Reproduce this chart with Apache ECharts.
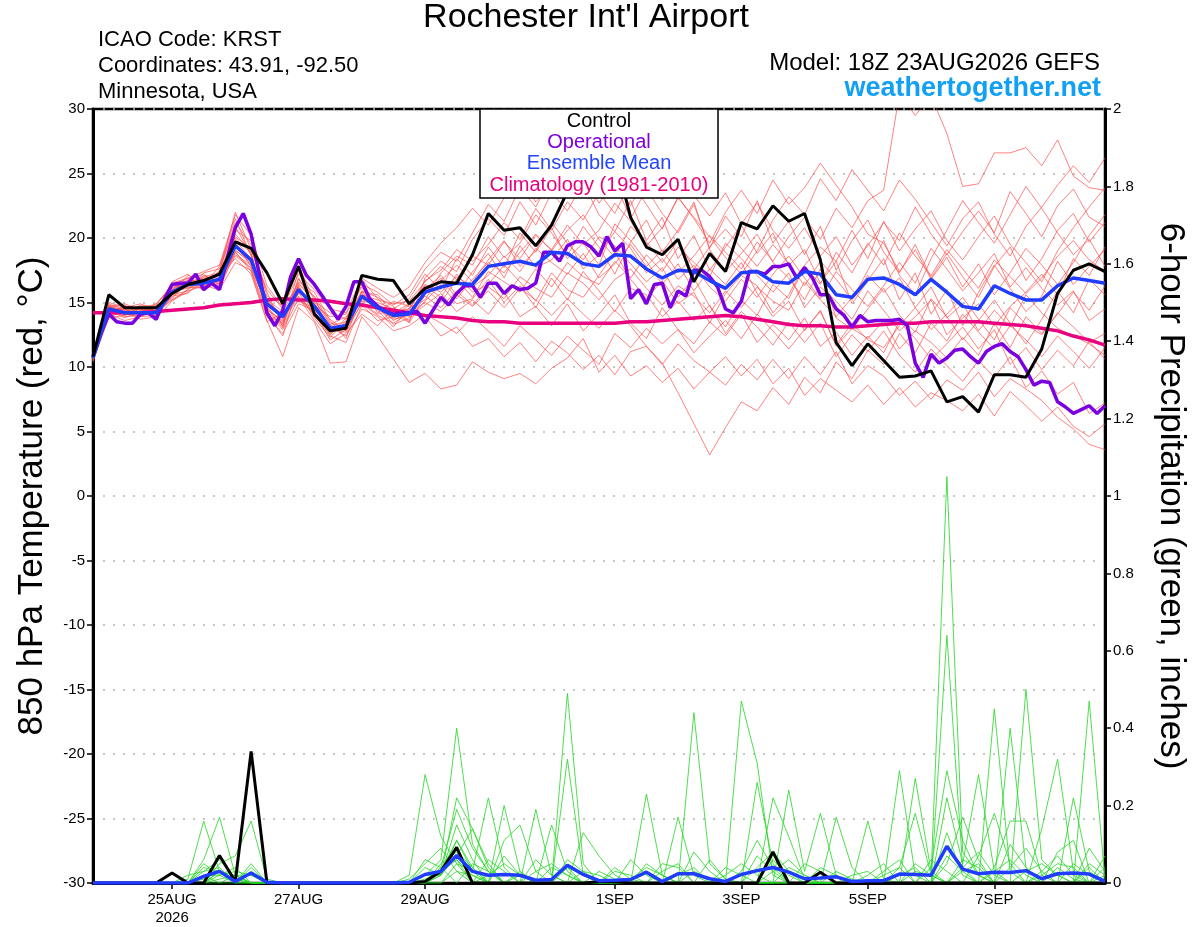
<!DOCTYPE html>
<html><head><meta charset="utf-8">
<script src="https://cdn.jsdelivr.net/npm/echarts@6/dist/echarts.min.js"></script>
<style>html,body{margin:0;padding:0;background:#fff}#chart{width:1200px;height:927px}</style>
</head><body><div id="chart"></div>
<script>
// ---- time axis (hours since 18Z 23AUG2026) ----
const hours6 = []; for (let h = 0; h <= 384; h += 6) hours6.push(h);
const hours3 = []; for (let h = 0; h <= 384; h += 3) hours3.push(h);
const tickHours = [30, 78, 126, 198, 246, 294, 342];
const tickLabels = ['25AUG\n2026', '27AUG', '29AUG', '1SEP', '3SEP', '5SEP', '7SEP'];

// ---- 850 hPa temperature (°C), 6-hourly ----
const controlTemp = [10.8,15.6,14.6,14.6,14.6, 15.7,16.4,16.7,17.2,19.7, 19.2,17.3,14.9,17.8,14.1, 12.8,13.0,17.1,16.8,16.7,
  14.9,16.1,16.6,16.5,18.7, 21.9,20.6,20.8,19.4,21.0, 23.6,26.0,27.0,26.4,21.6, 19.3,18.7,19.9,16.6,18.8,
  17.4,21.2,20.7,22.5,21.3, 21.9,18.3,11.9,10.1,11.8, 10.5,9.2,9.3,9.7,7.3, 7.7,6.5,9.4,9.4,9.2, 11.4,15.7,17.5,18.0,17.4];
const meanTemp = [10.7,14.5,14.2,14.2,14.2, 15.8,16.4,16.5,16.8,19.4, 18.3,14.9,13.9,16.0,14.7, 13.0,13.2,15.5,14.6,14.0,
  14.1,15.8,16.2,16.5,16.4, 17.8,18.0,18.2,17.9,18.9, 18.8,18.0,17.8,18.7,18.6, 17.6,16.9,17.5,17.4,16.7,
  16.1,17.3,17.4,16.6,16.5, 17.4,17.2,15.6,15.4,16.8, 16.9,16.4,15.6,16.8,15.8, 14.7,14.5,16.3,15.7,15.2, 15.2,16.3,16.9,16.7,16.5];
const climTemp = [14.2,14.2,14.2,14.2,14.3, 14.4,14.5,14.6,14.8,14.9, 15.0,15.2,15.3,15.2,15.2, 15.1,14.9,14.8,14.6,14.4,
  14.2,14.0,13.9,13.8,13.6, 13.5,13.5,13.4,13.4,13.4, 13.4,13.4,13.4,13.4,13.5, 13.5,13.6,13.7,13.8,13.9,
  14.0,13.9,13.7,13.5,13.3, 13.2,13.2,13.1,13.1,13.2, 13.3,13.4,13.4,13.5,13.5, 13.5,13.5,13.4,13.3,13.2, 13.0,12.8,12.4,12.1,11.7];
// operational run, 3-hourly
const operTemp = [10.8,12.6,14.1,13.5,13.4,13.4,14.1,14.2,13.7,15.2,16.4,16.5,16.5,17.2,16.0,16.5,16.0,18.5,20.8,21.9,
  20.3,17.3,14.2,13.2,14.4,17.0,18.4,17.1,16.4,15.5,14.6,13.7,14.7,16.6,16.6,15.3,14.7,14.3,14.1,14.2,14.2,14.3,13.4,
  14.4,15.4,14.8,15.7,16.3,16.3,15.4,16.5,16.5,15.7,16.3,16.0,16.1,16.5,18.9,18.9,18.2,19.4,19.7,19.7,19.3,18.6,20.1,
  19.0,19.6,15.3,16.0,14.9,16.4,16.5,14.6,15.9,15.5,17.5,17.5,17.0,16.2,14.5,14.2,15.1,17.4,17.4,
  17.2,17.8,17.8,18.0,16.9,17.7,16.9,15.6,15.6,14.5,14.0,13.1,14.0,13.5,13.6,13.6,13.6,13.7,13.2,10.3,9.2,11.0,10.3,
  10.7,11.3,11.4,10.8,10.3,11.2,11.6,11.8,11.2,10.8,9.8,8.6,8.9,8.8,7.3,6.9,6.4,6.7,7.0,6.4,7.0];

// ensemble members (red)
const tm01 = [11.0,14.8,14.0,14.5,14.9, 16.3,16.9,16.2,17.5,21.2, 19.5,15.8,13.1,17.5,14.2, 12.1,12.9,16.8,15.3,14.0, 13.5,16.9,18.2,17.4,19.9, 21.5,20.2,22.8,21.0,23.5, 22.1,24.3,21.8,20.5,22.9, 19.8,21.6,18.4,20.2,17.5, 19.3,21.0,18.8,20.4,17.9, 19.1,16.5,18.2,14.9,16.7, 18.4,15.2,17.3,14.1,16.0, 13.2,15.8,17.9,16.1,14.3, 15.5,18.2,16.4,17.8,19.1];
const tm02 = [10.5,14.1,13.6,13.9,14.4, 15.2,16.0,16.8,16.1,18.9, 17.6,14.2,12.9,15.3,14.1, 12.4,11.9,14.8,13.6,13.9, 14.8,16.3,15.4,17.2,15.8, 16.4,17.9,16.6,15.1,17.3, 16.0,15.4,17.1,18.9,16.8, 15.3,16.7,14.9,15.8,13.4, 15.7,17.1,16.3,14.2,15.6, 17.9,19.3,18.2,20.6,18.4, 21.3,19.0,20.7,22.1,19.8, 18.3,20.1,21.7,19.5,18.1, 16.6,19.0,20.8,22.4,23.9];
const tm03 = [10.8,14.6,14.8,14.1,14.0, 16.0,16.8,17.2,16.4,20.3, 18.9,14.1,12.4,16.6,15.8, 13.6,12.2,15.9,14.4,13.1, 14.6,15.2,17.3,18.6,17.9, 20.1,18.5,19.6,21.8,20.4, 18.6,20.9,19.3,17.2,19.7, 21.4,18.9,20.6,22.8,19.1, 17.4,18.8,20.3,18.1,16.9, 15.2,17.6,13.8,12.9,14.5, 16.1,14.0,12.7,15.3,13.9, 12.1,13.6,15.2,13.4,11.8, 13.7,15.9,14.2,16.8,15.6];
const tm04 = [10.6,13.9,14.3,13.7,13.9, 15.5,15.7,16.9,17.1,18.4, 17.2,13.5,14.2,15.4,13.6, 11.8,12.6,14.1,13.2,14.6, 13.9,14.8,15.7,14.3,15.2, 14.1,15.8,13.9,14.7,13.2, 14.9,12.8,14.1,15.6,13.4, 12.2,14.6,12.9,11.8,13.5, 12.4,14.1,11.9,13.3,12.1, 13.8,11.6,12.7,10.9,12.4, 11.1,13.5,12.2,10.6,11.8, 13.1,11.4,12.9,10.2,11.5, 9.8,11.3,10.1,12.0,10.6];
const tm05 = [11.1,15.0,14.6,14.9,14.3, 16.6,17.2,15.9,17.4,22.0, 19.1,16.0,14.5,17.9,15.1, 14.2,13.7,16.4,15.8,14.8, 15.6,17.6,18.9,18.2,20.4, 22.6,21.3,23.9,22.4,24.7, 23.2,25.1,22.7,24.3,21.5, 23.8,21.9,20.4,22.6,19.2, 21.7,20.1,22.9,19.6,21.3, 18.7,20.9,17.5,19.8,21.4, 18.9,17.3,19.5,16.9,18.8, 17.0,15.4,17.8,19.3,16.7, 18.4,20.6,21.9,19.7,21.2];
const tm06 = [10.4,14.3,14.5,14.6,14.1, 15.9,16.1,16.6,16.3,19.1, 18.0,15.3,13.7,15.7,15.2, 13.3,13.9,15.1,14.9,13.6, 14.3,15.5,14.6,15.9,14.8, 16.2,15.3,17.0,16.1,15.4, 17.3,16.5,15.2,16.8,17.6, 16.1,14.8,16.3,15.5,14.2, 15.9,14.6,16.2,15.1,14.4, 16.6,15.2,13.9,15.4,17.1, 15.8,16.9,14.6,16.2,13.8, 14.9,12.8,14.4,13.1,15.6, 14.2,13.0,12.4,11.8,10.9];
const tm07 = [10.9,14.4,13.8,14.3,14.6, 15.4,16.5,17.0,17.3,20.6, 19.8,15.5,14.8,16.2,13.9, 12.7,13.4,15.6,15.2,14.9, 15.1,16.6,17.8,16.8,18.6, 17.9,19.7,18.4,20.2,19.1, 21.0,19.5,20.6,22.7,21.3, 19.4,20.8,23.1,21.6,20.1, 18.5,17.2,19.0,21.4,23.2, 21.8,24.6,22.9,25.3,23.7, 22.1,24.5,23.0,21.2,19.4, 21.5,22.8,20.3,18.6,20.9, 22.4,24.1,25.6,24.3,26.2];
const tm08 = [10.7,14.2,14.1,13.9,14.0, 15.6,15.9,16.3,16.0,18.1, 17.5,13.9,12.6,14.9,14.4, 13.1,12.4,14.5,13.9,12.8, 13.2,14.1,13.4,12.6,13.9, 12.8,11.6,13.2,12.1,10.9, 12.4,11.3,10.2,12.6,11.5, 13.0,11.8,12.9,11.1,12.4, 13.6,12.2,14.1,12.8,11.4, 12.9,14.3,11.7,13.4,12.1, 11.5,13.2,14.6,12.9,14.1, 15.4,13.7,12.1,14.6,13.3, 12.5,14.2,13.1,11.9,12.6];
const tm09 = [10.6,14.9,14.4,14.7,14.5, 16.1,16.7,16.4,17.8,21.5, 18.6,14.7,13.3,16.9,14.8, 13.9,14.1,16.2,14.2,15.1, 14.7,16.0,17.1,15.6,17.4, 18.8,16.9,19.4,17.7,18.3, 19.9,17.6,18.7,20.5,19.2, 17.3,18.4,16.8,17.9,16.2, 15.1,16.8,15.4,17.2,18.6, 16.9,15.3,17.4,16.0,14.7, 16.3,18.1,16.5,19.2,17.6, 15.9,17.3,18.8,16.2,17.7, 16.1,14.8,15.9,13.6,14.5];
const tm10 = [10.8,14.7,14.9,14.4,14.8, 16.4,16.2,17.1,16.6,19.8, 18.4,14.4,13.6,16.4,15.5, 13.4,13.1,15.3,14.7,13.3, 13.8,15.1,16.4,14.9,15.3, 16.8,15.0,16.3,14.6,16.9, 15.2,17.4,15.9,14.3,16.1, 15.6,13.9,15.1,13.6,14.8, 12.6,14.3,13.1,11.7,13.5, 11.9,13.4,10.8,12.5,11.2, 12.8,10.9,9.6,11.4,10.1, 8.9,10.5,9.2,10.8,8.4, 9.7,7.9,8.8,6.4,7.2];
const tm11 = [10.5,14.0,14.2,14.8,14.7, 15.3,16.6,16.0,16.9,18.7, 17.9,15.1,14.0,15.1,14.6, 12.9,12.7,15.0,14.1,14.4, 13.6,16.1,15.0,16.8,15.4, 17.4,16.6,15.8,17.6,16.2, 18.1,17.0,16.4,18.2,16.9, 18.7,17.4,19.3,18.1,17.0, 19.6,18.4,17.1,15.8,17.3, 14.6,16.2,15.1,13.7,15.9, 14.4,12.8,13.9,15.2,12.5, 13.8,14.9,13.2,14.7,15.8, 17.2,15.6,18.4,17.1,19.3];
const tm12 = [11.0,14.5,13.9,14.0,14.2, 15.7,17.1,16.7,16.2,19.6, 17.8,14.6,13.0,15.8,13.8, 12.3,13.6,15.8,15.6,14.2, 14.9,13.9,12.4,13.1,11.6, 12.2,10.8,11.9,10.4,12.0, 11.1,9.8,10.9,9.4,11.2, 11.6,10.2,11.8,10.5,9.6, 10.8,9.3,10.6,8.7,9.9, 7.8,9.1,8.2,7.3,8.6, 7.1,8.4,6.9,8.0,7.4, 6.6,7.9,6.2,8.1,7.0, 5.8,6.9,5.4,4.6,5.6];
const tm13 = [10.7,14.3,14.7,14.2,14.9, 16.2,16.3,16.8,17.0,20.1, 19.2,15.2,14.3,16.5,15.0, 13.7,12.8,15.4,14.5,13.7, 14.0,15.9,16.7,17.9,16.6, 18.3,19.8,17.8,19.0,21.2, 19.6,18.3,20.1,19.4,18.0, 16.6,17.7,15.4,16.9,14.7, 13.1,15.2,14.0,16.4,15.3, 17.8,16.4,18.9,17.3,19.6, 17.9,20.4,18.6,17.1,19.1, 17.6,16.1,18.3,17.0,15.7, 16.9,18.6,19.8,18.3,17.4];
const tm14 = [10.9,14.8,14.3,14.5,13.8, 15.1,16.0,17.3,17.6,20.9, 18.7,14.0,13.4,16.8,15.4, 12.6,13.3,15.2,15.0,14.5, 15.3,17.2,16.0,18.4,17.1, 19.3,17.7,20.4,18.9,20.8, 18.4,19.6,17.9,21.1,19.8, 18.2,16.4,18.0,15.9,17.6, 16.4,18.1,15.7,13.9,15.1, 12.8,14.4,11.6,13.0,12.2, 13.6,11.4,12.8,11.9,10.7, 12.3,10.9,13.4,11.5,13.9, 12.6,14.1,15.8,14.4,16.3];
const tm15 = [10.6,14.6,14.4,14.2,14.6, 15.9,16.5,16.3,16.7,19.3, 18.1,15.0,14.1,15.9,14.9, 13.2,13.5,15.7,14.8,14.3, 14.5,16.4,15.8,17.0,16.2, 17.1,18.6,17.4,19.2,18.1, 17.2,18.8,16.9,18.0,19.5, 17.8,19.1,17.3,18.6,20.2, 18.9,17.6,19.7,18.2,20.1, 21.6,19.9,22.3,20.8,22.9, 23.7,31.2,29.5,31.0,28.1, 24.0,24.2,26.6,26.6,27.0, 25.6,27.6,24.8,23.9,23.7];
const tm16 = [10.8,14.1,14.6,14.4,14.1, 15.8,16.2,16.1,16.5,18.6, 17.7,14.8,13.8,15.5,14.1, 12.8,13.0,14.9,14.0,13.4, 14.2,15.0,14.3,15.6,14.7, 15.9,14.6,16.1,15.2,14.0, 15.3,14.1,13.0,14.4,13.2, 11.6,10.3,8.0,5.6,3.2, 5.3,7.3,6.6,8.4,7.1, 9.2,8.0,10.4,9.1,11.3, 10.2,12.6,11.1,13.4,12.0, 14.1,12.7,11.4,13.2,12.1, 10.8,12.4,11.2,9.9,11.5];
const tm17 = [10.5,13.8,14.0,14.3,14.2, 15.2,15.8,16.6,16.8,18.9, 17.4,13.6,10.8,14.6,13.5, 10.3,10.4,13.9,12.4,10.6, 8.8,9.5,8.3,8.6,10.4, 9.6,9.1,9.5,8.7,9.9, 10.7,12.2,9.6,10.9,9.3, 10.1,8.8,9.9,8.3,9.6, 8.6,10.2,9.0,10.6,9.1, 10.8,9.4,11.2,8.7,10.1, 9.3,7.8,8.9,7.5,9.0, 8.2,9.6,7.7,9.1,8.3, 7.4,6.1,5.2,4.0,3.6];
const tm18 = [10.7,14.4,14.5,14.0,14.4, 16.5,16.9,17.4,17.9,21.8, 20.2,16.3,14.6,17.2,16.0, 14.5,14.2,16.9,16.1,15.4, 16.2,18.1,19.6,20.8,22.3, 21.0,23.1,24.6,22.8,24.1, 25.3,23.6,26.0,24.2,22.5, 24.8,22.9,25.4,23.3,21.7, 23.5,21.1,22.7,20.6,19.2, 20.8,18.6,20.1,17.9,19.4, 21.2,19.8,22.4,20.3,18.7, 20.5,22.1,20.4,23.6,21.9, 20.1,22.5,23.8,21.6,20.9];
const tm19 = [10.9,14.7,14.1,14.6,14.4, 15.6,16.4,16.5,16.6,19.0, 18.2,14.5,13.5,16.1,14.3, 12.5,13.8,15.9,15.4,14.7, 13.4,15.6,16.9,15.3,16.8, 18.1,17.3,18.9,20.3,19.0, 20.6,21.8,19.9,18.5,20.9, 19.7,18.1,19.8,17.6,19.3, 20.7,19.2,17.8,19.5,18.0, 16.3,18.2,16.8,15.2,17.5, 19.8,17.1,15.6,18.4,20.6, 22.9,21.2,19.6,21.8,24.0, 22.3,20.4,18.7,19.9,17.8];
const tm20 = [10.6,14.2,14.7,14.5,14.3, 16.0,16.6,16.9,16.4,20.0, 18.8,14.3,13.2,16.3,14.5, 13.0,13.3,15.5,14.6,13.8, 14.4,16.7,17.5,19.1,18.2, 19.5,21.2,19.9,22.3,20.6, 22.8,21.4,23.5,21.9,24.4, 22.6,20.7,23.2,21.5,19.6, 22.0,23.7,21.9,24.5,22.6, 23.9,25.8,24.1,22.4,20.3, 19.6,17.4,19.1,16.8,18.5, 16.2,18.0,15.6,17.3,19.2, 17.9,16.4,18.1,20.2,21.8];
const tempMembers = [tm01,tm02,tm03,tm04,tm05,tm06,tm07,tm08,tm09,tm10,tm11,tm12,tm13,tm14,tm15,tm16,tm17,tm18,tm19,tm20];

// ---- 6-hour precipitation (inches) ----
const controlPrcp = [0,0,0,0,0, .026,0,0,.071,.004, .34,0,0,0,0, 0,0,0,0,0, 0,.004,.03,.092,0, 0,0,0,0,0, 0,0,.003,.003,0, 0,0,0,0,0, 0,0,0,.08,0, 0,.028,0,0,0, 0,0,0,0,0, 0,0,0,0,0, 0,0,0,0,0];
const meanPrcp = [0,0,0,0,0, 0,0,.017,.030,.004, .026,.002,0,0,0, 0,0,0,0,0, .002,.022,.030,.071,.030, .020,.022,.020,.007,.009, .046,.022,.006,.007,.009, .028,.004,.024,.024,.011, .004,.022,.032,.040,.028, .011,.013,.016,.004,.006, .006,.023,.022,.020,.095, .036,.024,.028,.027,.032, .011,.024,.026,.023,.004];
const pm01 = [0,0,0,0,0, 0,.01,.16,.03,0, 0,0,0,0,0, 0,0,0,0,0, 0,.02,.06,.40,.10, .03,0,0,0,.01, .04,0,0,0,0, .23,.02,0,0,0, 0,0,0,.06,.02, 0,0,0,0,0, 0,0,.03,.02,1.05, .08,.02,0,0,0, 0,.04,.01,0,0];
const pm02 = [0,0,0,0,0, 0,0,.06,.17,.02, 0,0,0,0,0, 0,0,0,0,0, .02,.28,.12,.05,0, 0,.20,.03,0,0, 0,0,0,0,0, 0,0,0,.44,.05, .01,0,0,0,0, 0,0,.03,.01,0, 0,.29,.02,0,0, 0,0,.45,.03,0, 0,0,0,.05,.02];
const pm03 = [0,0,0,0,0, 0,0,0,.05,.07, .16,.01,0,0,0, 0,0,0,0,0, 0,0,.02,.22,.14, .04,0,0,0,0, .49,.05,0,0,0, 0,0,0,0,0, 0,.47,.31,.02,0, 0,0,0,0,0, 0,0,0,0,.64, .04,0,0,0,.50, .06,.02,0,0,0];
const pm04 = [0,0,0,0,0, 0,.02,.03,.04,0, .04,0,0,0,0, 0,0,0,0,0, 0,.04,.02,.15,.06, 0,0,0,.19,.02, 0,0,0,0,.01, .04,.02,0,0,0, 0,0,.26,.05,0, 0,0,0,0,.16, .01,0,.27,.03,0, 0,0,0,.40,.04, 0,0,0,0,.07];
const pm05 = [0,0,0,0,0, 0,0,.05,.02,.03, .02,0,0,0,0, 0,0,0,0,0, 0,0,.03,.11,.03, .22,.04,0,0,0, 0,.13,.07,.02,0, 0,0,0,0,0, 0,0,0,0,.24, .03,.18,.02,0,0, 0,0,0,0,.22, .05,.28,.03,0,0, 0,0,.22,.03,0];
const pm06 = [0,0,0,0,0, 0,0,0,.03,.01, 0,0,0,0,0, 0,0,0,0,0, 0,0,.05,.08,.04, 0,.11,.15,.03,0, .32,.02,0,0,0, 0,.03,.05,0,0, 0,0,0,.22,.12, .01,0,0,0,0, 0,.04,.18,.02,0, 0,0,.04,.16,.16, .02,0,0,.47,.01];
const pm07 = [0,0,0,0,0, 0,0,.02,.02,0, .05,0,0,0,0, 0,0,0,0,0, 0,.01,.03,.06,.02, 0,0,.03,0,.15, .03,0,0,0,0, 0,0,.17,.02,0, 0,0,0,0,0, 0,0,.17,.04,0, 0,0,0,0,0, .03,.05,0,0,0, .14,.32,.03,0,0];
const pm08 = [0,0,0,0,0, 0,0,0,0,.02, .02,0,0,0,0, 0,0,0,0,0, .01,.05,.09,.03,0, .06,.03,0,0,0, 0,0,0,.03,.02, 0,0,0,0,.06, .01,0,0,0,0, .05,.03,0,0,0, .03,.06,0,0,.13, .02,0,0,0,.03, .05,.02,0,0,0];
const pm09 = [0,0,0,0,0, 0,0,.03,.06,.01, 0,0,0,0,0, 0,0,0,0,0, 0,0,.04,.19,.09, .03,0,0,.06,.02, 0,0,.03,.01,0, 0,0,0,.08,.03, 0,0,.04,.08,.03, 0,0,0,0,0, 0,0,0,.04,.29, .11,.02,0,0,0, 0,0,.05,.02,0];
const pm10 = [0,0,0,0,0, 0,0,0,.02,.04, 0,0,0,0,0, 0,0,0,0,0, 0,0,0,.05,.03, 0,0,.02,0,0, .04,.02,0,0,0, .05,.02,0,0,0, 0,.03,.11,.04,0, 0,0,0,0,.02, .05,0,.05,.02,0, 0,.07,.18,.05,0, 0,.08,.11,0,.02];
const pm11 = [0,0,0,0,0, 0,0,.02,0,0, .03,0,0,0,0, 0,0,0,0,0, 0,.02,.02,.07,.14, .05,0,0,0,.04, .02,0,0,0,.06, .02,0,0,0,0, .04,.02,0,0,0, 0,.04,.02,0,0, 0,0,0,0,0, .06,.04,0,.10,.04, 0,0,0,.09,.03];
const pm12 = [0,0,0,0,0, 0,0,0,.03,0, 0,0,0,0,0, 0,0,0,0,0, 0,0,.02,.11,.04, 0,.07,.02,0,0, 0,.03,.02,0,0, 0,.05,.04,0,0, 0,0,0,.03,.06, .02,0,0,0,0, 0,.02,.04,0,.05, .17,.06,0,0,0, .03,.07,.02,0,0];
const pm13 = [0,0,0,0,0, 0,0,.04,.03,.02, 0,0,0,0,0, 0,0,0,0,0, 0,.06,.04,0,.05, .03,0,0,.03,.05, .02,0,0,0,0, 0,0,0,.03,.01, 0,0,.07,.03,0, 0,0,0,.02,.03, 0,0,0,.06,.03, 0,0,.03,.06,.02, 0,0,0,0,.04];
const pm14 = [0,0,0,0,0, 0,0,0,.01,.02, 0,0,0,0,0, 0,0,0,0,0, 0,0,.04,.06,0, .02,.05,.02,0,0, 0,0,0,.04,.01, 0,0,0,0,0, .02,.05,.02,0,0, 0,0,0,0,0, .02,.04,0,0,0, .04,.08,.02,0,0, .02,.05,.04,0,0];
const pm15 = [0,0,0,0,0, 0,0,.01,.03,0, 0,0,0,0,0, 0,0,0,0,0, 0,0,0,.03,.02, 0,0,0,0,0, .06,.03,0,0,0, 0,0,.02,.04,0, 0,0,0,0,.04, .02,0,0,0,0, 0,0,0,0,.07, .03,0,0,.04,.09, .03,0,0,.04,0];
const prcpMembers = [pm01,pm02,pm03,pm04,pm05,pm06,pm07,pm08,pm09,pm10,pm11,pm12,pm13,pm14,pm15];

// ---- chart ----
const FONT = "'Liberation Sans', Arial, Helvetica, sans-serif";
const pairs = (xs, ys) => ys.map((v, k) => [xs[k], v]);
const lineBase = { type: 'line', showSymbol: false, symbol: 'none', silent: true, animation: false };

const series = [];
tempMembers.forEach((m, k) => series.push(Object.assign({}, lineBase, {
  name: 'Member ' + (k + 1), yAxisIndex: 0, data: pairs(hours6, m), z: 2,
  lineStyle: { color: '#ff4646', width: 0.8, opacity: 0.85 }
})));
prcpMembers.forEach((m, k) => series.push(Object.assign({}, lineBase, {
  name: 'Precip member ' + (k + 1), yAxisIndex: 1, data: pairs(hours6, m), z: 3,
  lineStyle: { color: '#22d622', width: 0.8 }
})));
series.push(Object.assign({}, lineBase, { name: 'Climatology (1981-2010)', yAxisIndex: 0, data: pairs(hours6, climTemp), z: 4,
  lineStyle: { color: '#e8007f', width: 3.5 } }));
series.push(Object.assign({}, lineBase, { name: 'Operational', yAxisIndex: 0, data: pairs(hours3, operTemp), z: 5,
  lineStyle: { color: '#7b00e0', width: 3.5 } }));
series.push(Object.assign({}, lineBase, { name: 'Ensemble Mean', yAxisIndex: 0, data: pairs(hours6, meanTemp), z: 6,
  lineStyle: { color: '#1f3cff', width: 3.5 } }));
series.push(Object.assign({}, lineBase, { name: 'Control', yAxisIndex: 0, data: pairs(hours6, controlTemp), z: 7,
  lineStyle: { color: '#000', width: 3 } }));
series.push(Object.assign({}, lineBase, { name: 'Control precip', yAxisIndex: 1, data: pairs(hours6, controlPrcp), z: 7,
  lineStyle: { color: '#000', width: 3 } }));
series.push(Object.assign({}, lineBase, { name: 'Mean precip', yAxisIndex: 1, data: pairs(hours6, meanPrcp), z: 8,
  lineStyle: { color: '#1f3cff', width: 3.5 } }));

const chart = echarts.init(document.getElementById('chart'), null, { renderer: 'canvas' });
const option = {
  animation: false,
  backgroundColor: '#fff',
  textStyle: { fontFamily: FONT, color: '#000' },
  grid: { left: 93, right: 95, top: 109, bottom: 44, show: true, borderColor: '#000', borderWidth: 2.5, backgroundColor: 'transparent' },
  xAxis: {
    type: 'value', min: 0, max: 384,
    axisLine: { show: true, onZero: false, lineStyle: { color: '#000', width: 3 } },
    axisTick: { show: true, customValues: tickHours, length: 6, lineStyle: { color: '#000', width: 1.5 } },
    axisLabel: { customValues: tickHours, color: '#000', fontSize: 15, lineHeight: 18, margin: 8, fontFamily: FONT,
      formatter: v => { const k = tickHours.indexOf(v); return k >= 0 ? tickLabels[k] : ''; } },
    splitLine: { show: false }
  },
  yAxis: [
    {
      type: 'value', min: -30, max: 30, interval: 5, position: 'left',
      name: '850 hPa Temperature (red, °C)', nameLocation: 'middle', nameGap: 43, nameRotate: 90,
      nameTextStyle: { fontSize: 35, color: '#000', fontFamily: FONT },
      axisLine: { show: true, onZero: false, lineStyle: { color: '#000', width: 3 } },
      axisTick: { show: true, length: 6, lineStyle: { color: '#000', width: 1.5 } },
      axisLabel: { color: '#000', fontSize: 15, margin: 8, fontFamily: FONT },
      splitLine: { show: true, lineStyle: { color: '#b4b4b4', width: 1.5, type: [2, 8] } }
    },
    {
      type: 'value', min: 0, max: 2, interval: 0.2, position: 'right',
      name: '6-hour Precipitation (green, inches)', nameLocation: 'middle', nameGap: 48, nameRotate: -90,
      nameTextStyle: { fontSize: 35, color: '#000', fontFamily: FONT },
      axisLine: { show: true, onZero: false, lineStyle: { color: '#000', width: 3 } },
      axisTick: { show: true, length: 6, lineStyle: { color: '#000', width: 1.5 } },
      axisLabel: { color: '#000', fontSize: 15, margin: 8, fontFamily: FONT },
      splitLine: { show: false }
    }
  ],
  graphic: [
    { type: 'text', x: 586, y: 18, z: 100, style: { text: "Rochester Int'l Airport", font: '34px ' + FONT, fill: '#000', textAlign: 'center', textVerticalAlign: 'middle' } },
    { type: 'text', x: 98, y: 40, z: 100, style: { text: 'ICAO Code: KRST', font: '22px ' + FONT, fill: '#000', textAlign: 'left', textVerticalAlign: 'middle' } },
    { type: 'text', x: 98, y: 66, z: 100, style: { text: 'Coordinates: 43.91, -92.50', font: '22px ' + FONT, fill: '#000', textAlign: 'left', textVerticalAlign: 'middle' } },
    { type: 'text', x: 98, y: 92, z: 100, style: { text: 'Minnesota, USA', font: '22px ' + FONT, fill: '#000', textAlign: 'left', textVerticalAlign: 'middle' } },
    { type: 'text', x: 1100, y: 63, z: 100, style: { text: 'Model: 18Z 23AUG2026 GEFS', font: '24px ' + FONT, fill: '#000', textAlign: 'right', textVerticalAlign: 'middle' } },
    { type: 'text', x: 1101, y: 89, z: 100, style: { text: 'weathertogether.net', font: 'bold 27px ' + FONT, fill: '#12a0f5', textAlign: 'right', textVerticalAlign: 'middle' } },
    { type: 'rect', z: 100, shape: { x: 480, y: 109, width: 238, height: 89 }, style: { fill: '#fff', stroke: '#000', lineWidth: 1.5 } },
    { type: 'text', x: 599, y: 121, z: 101, style: { text: 'Control', font: '20px ' + FONT, fill: '#000', textAlign: 'center', textVerticalAlign: 'middle' } },
    { type: 'text', x: 599, y: 142, z: 101, style: { text: 'Operational', font: '20px ' + FONT, fill: '#8000dd', textAlign: 'center', textVerticalAlign: 'middle' } },
    { type: 'text', x: 599, y: 163, z: 101, style: { text: 'Ensemble Mean', font: '20px ' + FONT, fill: '#2244ff', textAlign: 'center', textVerticalAlign: 'middle' } },
    { type: 'text', x: 599, y: 185, z: 101, style: { text: 'Climatology (1981-2010)', font: '20px ' + FONT, fill: '#e6007e', textAlign: 'center', textVerticalAlign: 'middle' } }
  ],
  series: series
};
chart.setOption(option);
</script>
</body></html>
